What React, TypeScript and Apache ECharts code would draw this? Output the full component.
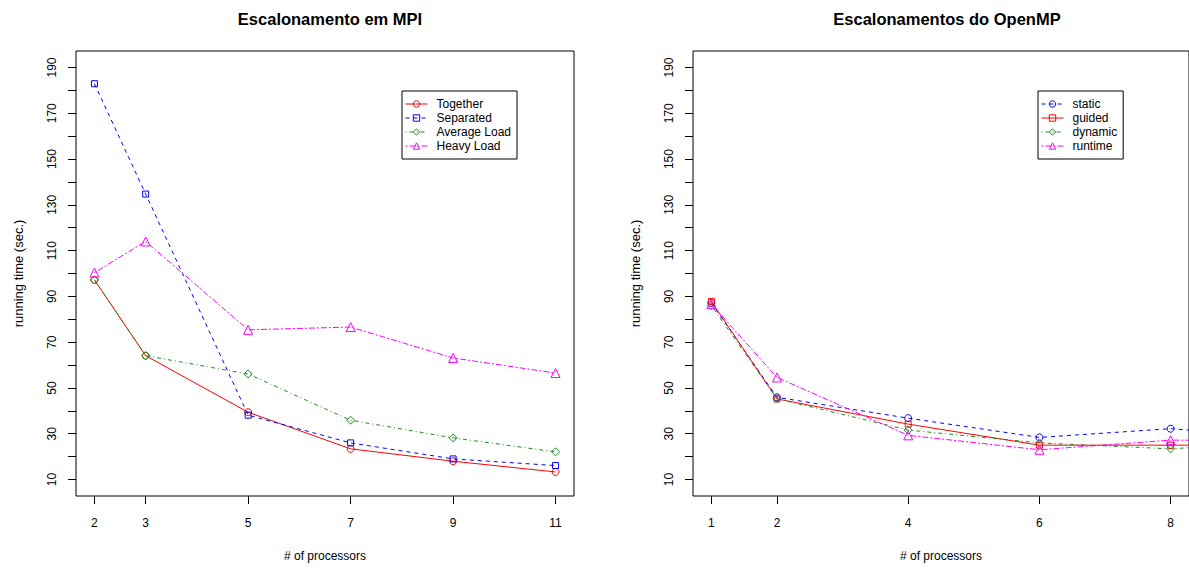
import React, { useEffect, useRef } from "react";
import * as echarts from "echarts";

// ---- data ----
const mpiProcs = [2, 3, 5, 7, 9, 11];
const together = [97.2, 64.1, 39.4, 23.4, 18.0, 13.3];
const separated = [182.9, 134.7, 38.1, 26.0, 19.0, 16.1];
const averageLoad = [97.2, 64.1, 56.1, 35.9, 28.2, 22.1];
const heavyLoad = [100.4, 114.0, 75.4, 76.6, 63.1, 56.5];

const ompThreads = [1, 2, 4, 6, 8, 10];
const staticSched = [87.1, 45.9, 36.8, 28.4, 32.2, 28.0];
const guidedSched = [87.8, 45.2, 34.2, 25.0, 25.0, 25.0];
const dynamicSched = [86.0, 45.3, 31.6, 26.0, 23.4, 27.0];
const runtimeSched = [86.6, 54.6, 29.3, 23.0, 27.2, 27.0];

const mpiTicks = [2, 3, 5, 7, 9, 11];
const ompTicks = [1, 2, 4, 6, 8];
const yTicks = [10, 20, 30, 40, 50, 60, 70, 80, 90, 100, 110, 120, 130, 140, 150, 160, 170, 180, 190];
const yLabels = [10, 30, 50, 70, 90, 110, 130, 150, 170, 190];

const yRange = [10, 190];
const mpiRange = [2, 11];
const ompRange = [1, 8];

const FONT = '"Liberation Sans", Arial, Helvetica, sans-serif';
const RED = "#FF0000";
const BLUE = "#0000FF";
const GREEN = "#1E8B1E";
const MAGENTA = "#FF00FF";

const DASHED = [4, 4];
const DOTDASH = [1, 3, 4, 3];
const TWODASH = [2, 2, 6, 2];

function ext(r: number[]) {
  const d = (r[1] - r[0]) * 0.04;
  return [r[0] - d, r[1] + d];
}

function zip(xs: number[], ys: number[]) {
  return xs.map((x, i) => [x, ys[i]]);
}

function mkSeries(name: string, idx: number, xs: number[], ys: number[], color: string, dash: any, symbol: string, size: number) {
  return {
    name,
    type: "line",
    xAxisIndex: idx,
    yAxisIndex: idx,
    data: zip(xs, ys),
    symbol,
    symbolSize: size,
    showAllSymbol: true,
    clip: true,
    lineStyle: { color, width: 1, type: dash },
    itemStyle: { color: "rgba(0,0,0,0)", borderColor: color, borderWidth: 1 },
    emphasis: { disabled: true },
  };
}

function mkX(idx: number, range: number[], ticks: number[]) {
  const [mn, mx] = ext(range);
  return {
    type: "value",
    gridIndex: idx,
    min: mn,
    max: mx,
    axisLine: { show: false },
    splitLine: { show: false },
    axisTick: { show: true, length: 8, customValues: ticks, lineStyle: { color: "#000", width: 1 } },
    axisLabel: { customValues: ticks, margin: 21, fontSize: 12, color: "#000", fontFamily: FONT },
    name: "# of processors",
    nameLocation: "middle",
    nameGap: 54,
    nameTextStyle: { fontSize: 12, color: "#000", fontFamily: FONT },
  };
}

function mkY(idx: number) {
  const [mn, mx] = ext(yRange);
  return {
    type: "value",
    gridIndex: idx,
    min: mn,
    max: mx,
    axisLine: { show: false },
    splitLine: { show: false },
    axisTick: { show: true, length: 8, customValues: yTicks, lineStyle: { color: "#000", width: 1 } },
    axisLabel: { customValues: yLabels, rotate: 90, margin: 18, fontSize: 12, color: "#000", fontFamily: FONT },
    name: "running time (sec.)",
    nameLocation: "middle",
    nameGap: 51,
    nameTextStyle: { fontSize: 13, color: "#000", fontFamily: FONT },
  };
}

function mkLegend(names: string[], left: number, top: number) {
  return {
    data: names,
    orient: "vertical",
    left,
    top,
    itemWidth: 22,
    itemHeight: 8,
    itemGap: 0,
    padding: [6, 6, 6, 3],
    borderColor: "#000",
    borderWidth: 1,
    backgroundColor: "#fff",
    selectedMode: false,
    itemStyle: { borderWidth: 1 },
    lineStyle: { width: 1 },
    textStyle: { fontSize: 12, lineHeight: 14, color: "#000", fontFamily: FONT, padding: [0, 0, 0, 4] },
  };
}

export default function App() {
  const ref = useRef<HTMLDivElement>(null);
  useEffect(() => {
    if (!ref.current) return;
    const chart = echarts.init(ref.current, undefined, { renderer: "svg" });
    chart.setOption({
      animation: false,
      backgroundColor: "#fff",
      title: [
        { text: "Escalonamento em MPI", left: 325, top: 5, textAlign: "center", textStyle: { fontSize: 16.5, fontWeight: "bold", color: "#000", fontFamily: FONT } },
        { text: "Escalonamentos do OpenMP", left: 942, top: 5, textAlign: "center", textStyle: { fontSize: 16.5, fontWeight: "bold", color: "#000", fontFamily: FONT } },
      ],
      grid: [
        { left: 76, top: 51, width: 498, height: 445, show: true, borderColor: "#000", borderWidth: 1, backgroundColor: "transparent" },
        { left: 693, top: 51, width: 498, height: 445, show: true, borderColor: "#000", borderWidth: 1, backgroundColor: "transparent" },
      ],
      xAxis: [mkX(0, mpiRange, mpiTicks), mkX(1, ompRange, ompTicks)],
      yAxis: [mkY(0), mkY(1)],
      legend: [
        mkLegend(["Together", "Separated", "Average Load", "Heavy Load"], 402, 91),
        mkLegend(["static", "guided", "dynamic", "runtime"], 1038, 91),
      ],
      series: [
        mkSeries("Together", 0, mpiProcs, together, RED, "solid", "circle", 7),
        mkSeries("Separated", 0, mpiProcs, separated, BLUE, DASHED, "rect", 6),
        mkSeries("Average Load", 0, mpiProcs, averageLoad, GREEN, DOTDASH, "diamond", 8),
        mkSeries("Heavy Load", 0, mpiProcs, heavyLoad, MAGENTA, TWODASH, "triangle", 9),
        mkSeries("static", 1, ompThreads, staticSched, BLUE, DASHED, "circle", 7),
        mkSeries("guided", 1, ompThreads, guidedSched, RED, "solid", "rect", 6),
        mkSeries("dynamic", 1, ompThreads, dynamicSched, GREEN, DOTDASH, "diamond", 8),
        mkSeries("runtime", 1, ompThreads, runtimeSched, MAGENTA, TWODASH, "triangle", 9),
      ],
    });
    return () => chart.dispose();
  }, []);
  return <div ref={ref} style={{ position: "absolute", left: 0, top: 0, width: 1189, height: 569 }} />;
}
